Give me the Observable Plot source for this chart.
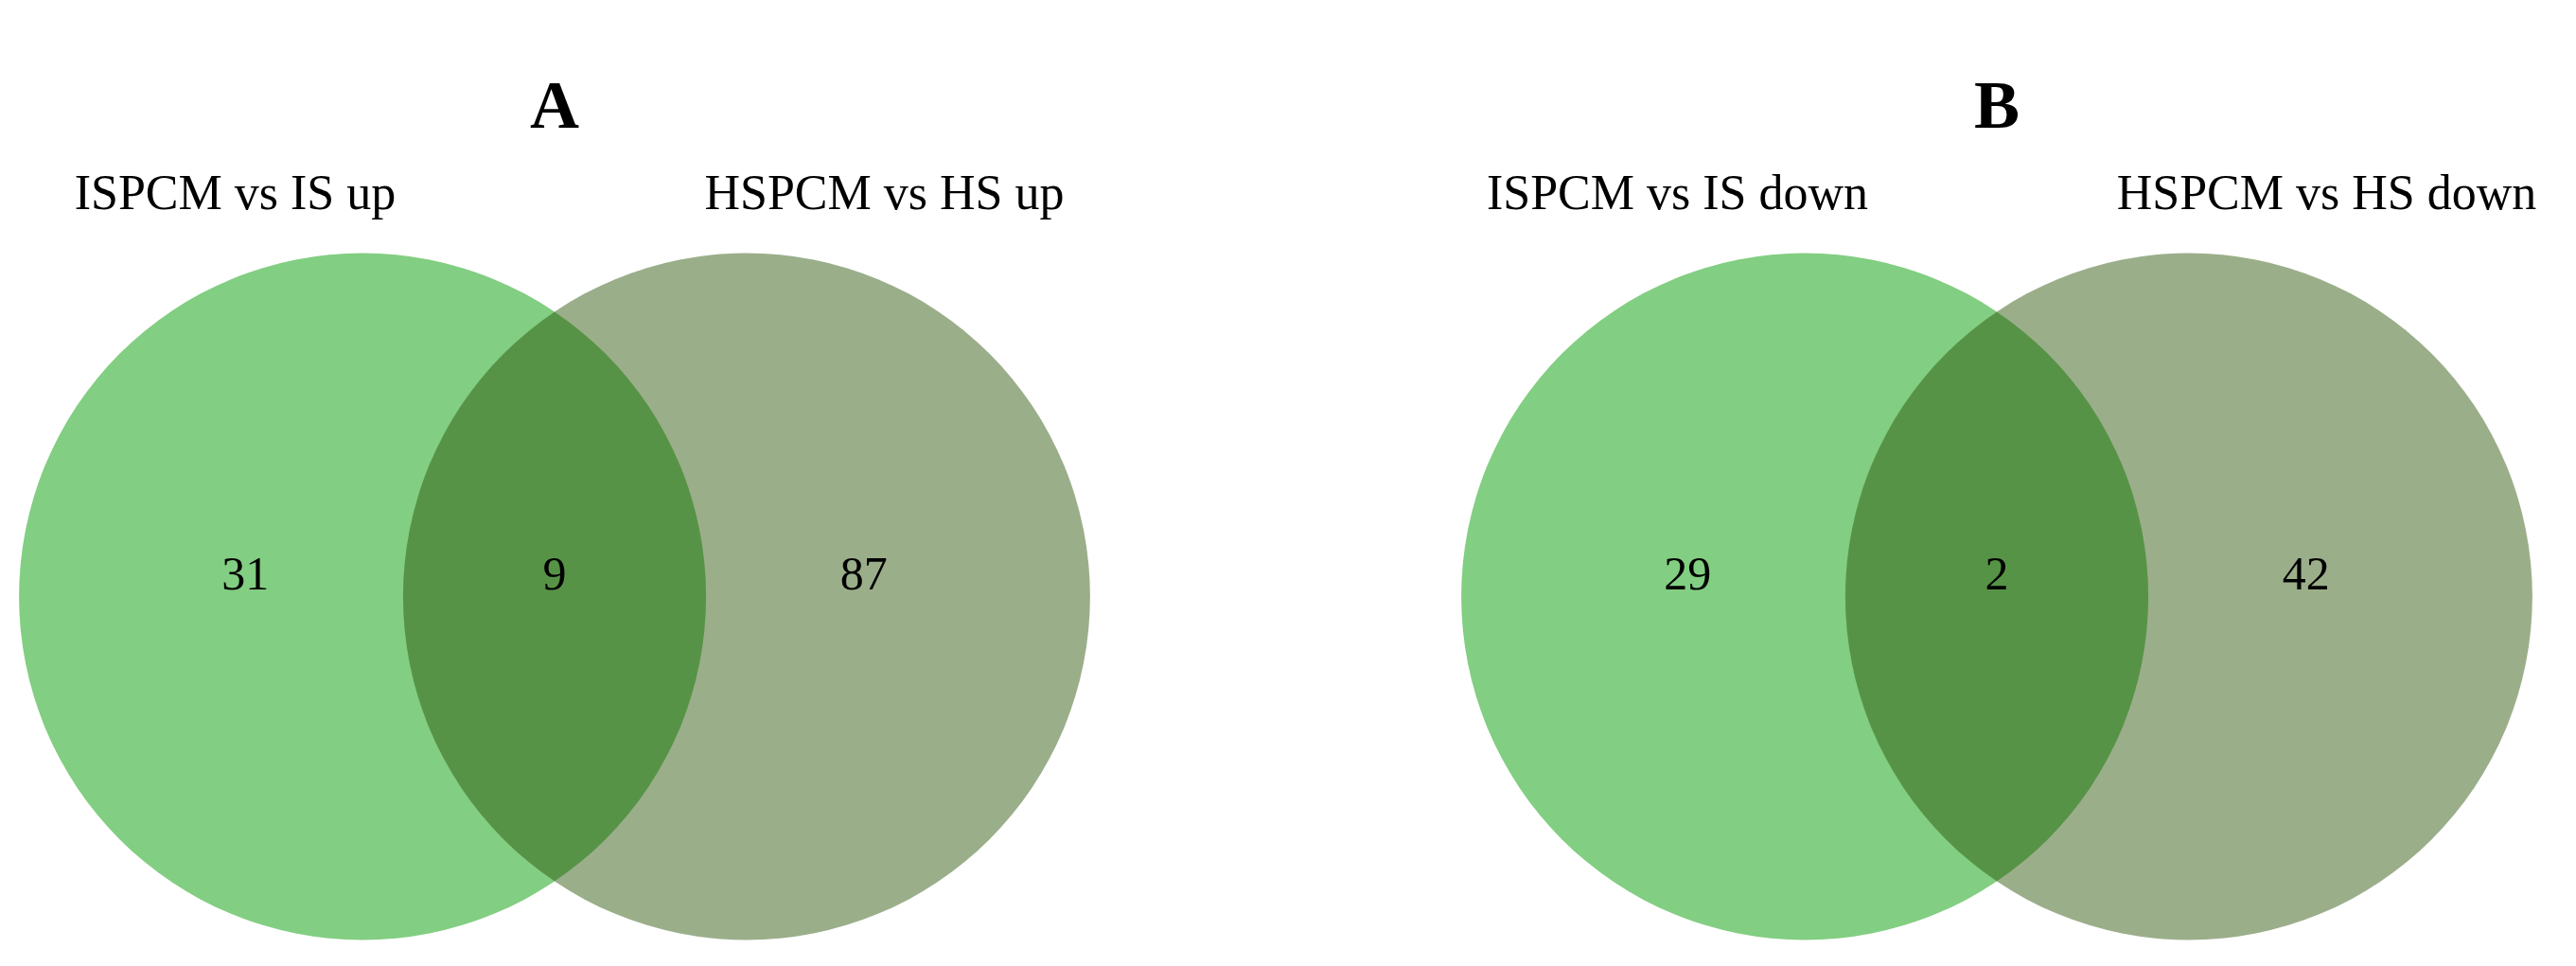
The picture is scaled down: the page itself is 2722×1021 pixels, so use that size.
<!DOCTYPE html>
<html>
<head>
<meta charset="utf-8">
<script src="https://cdn.jsdelivr.net/npm/d3@7"></script>
<script src="https://cdn.jsdelivr.net/npm/@observablehq/plot@0.6"></script>
<style>
  body { margin: 0; background: #fff; }
</style>
</head>
<body>
<div id="chart"></div>
<script>
const panels = ["A", "B"];
const leftSets = ["ISPCM vs IS up", "ISPCM vs IS down"];
const rightSets = ["HSPCM vs HS up", "HSPCM vs HS down"];
const leftOnly = [31, 29];
const shared = [9, 2];
const rightOnly = [87, 42];

// venn layout, all in units of one circle radius (unit = px per radius)
const unit = 363;
const circleX = {left: -0.559, right: 0.559};
const countX = {left: -0.9, both: 0, right: 0.9};
const labelX = {left: -0.93, right: 0.96};

const circles = panels.flatMap(p => [{panel: p, side: "left"}, {panel: p, side: "right"}]);
const counts = panels.flatMap((p, i) => [
  {panel: p, where: "left", n: leftOnly[i]},
  {panel: p, where: "both", n: shared[i]},
  {panel: p, where: "right", n: rightOnly[i]}
]);
const labels = panels.flatMap((p, i) => [
  {panel: p, side: "left", text: leftSets[i]},
  {panel: p, side: "right", text: rightSets[i]}
]);

const font = "'Liberation Serif', 'Times New Roman', serif";

let chart = Plot.plot({
  width: 2722,
  height: 1021,
  marginTop: 0,
  marginBottom: 0,
  marginLeft: 19,
  marginRight: 47,
  style: {fontFamily: font, background: "white", color: "black"},
  fx: {domain: panels, paddingInner: 0.258, paddingOuter: 0, axis: null},
  x: {domain: [-1.558, 1.558], axis: null},
  y: {domain: [-630 / unit, 391 / unit], range: [0, 1021], axis: null},
  r: {type: "linear", domain: [0, 1], range: [0, unit]},
  marks: [
    Plot.dot(circles, {
      filter: d => d.side === "left",
      fx: "panel", x: d => circleX[d.side], y: () => 0, r: () => 1,
      fill: "#82ce82", stroke: null
    }),
    // second set drawn translucent so the overlap darkens
    Plot.dot(circles, {
      filter: d => d.side === "right",
      fx: "panel", x: d => circleX[d.side], y: () => 0, r: () => 1,
      fill: "rgb(38,79,0)", fillOpacity: 0.46, stroke: null
    }),
    // panel letters
    Plot.text(panels, {
      fx: d => d, x: () => 0, y: () => -1.364, text: d => d,
      lineAnchor: "bottom", fontSize: 72, fontWeight: "bold", fill: "black"
    }),
    // set names
    Plot.text(labels, {
      fx: "panel", x: d => labelX[d.side], y: () => -1.129, text: "text",
      lineAnchor: "bottom", fontSize: 52, fill: "black"
    }),
    // counts
    Plot.text(counts, {
      fx: "panel", x: d => countX[d.where], y: () => -0.066, text: d => String(d.n),
      fontSize: 50, fill: "black"
    })
  ]
});

d3.select('#chart').append(() => chart);
</script>
</body>
</html>
